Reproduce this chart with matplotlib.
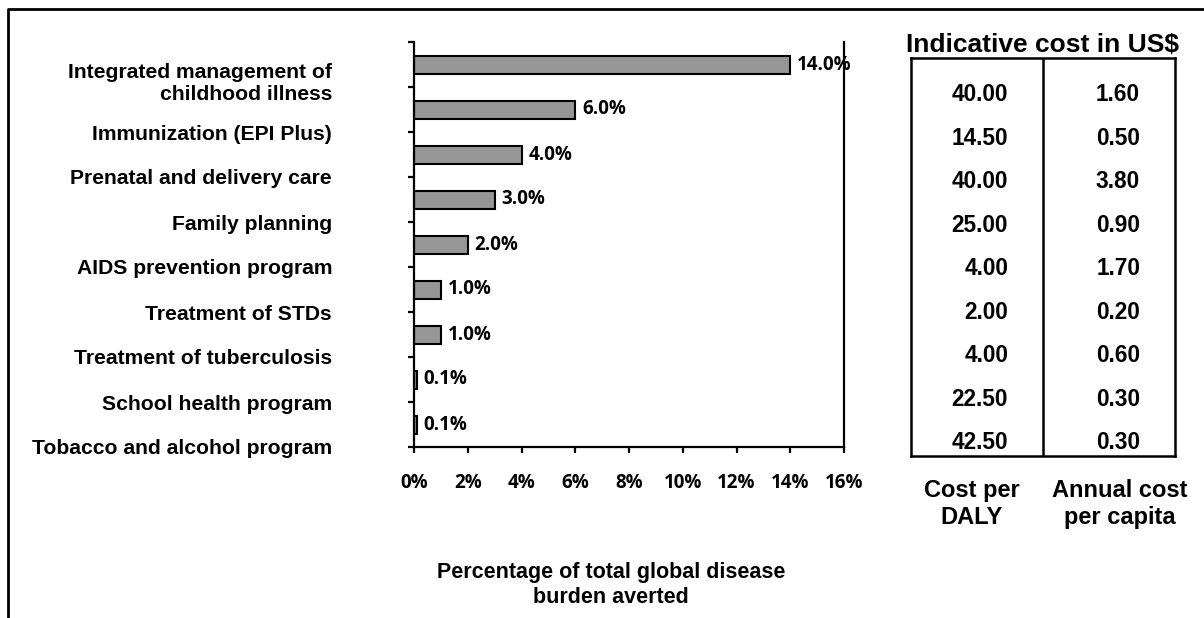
import matplotlib
matplotlib.use("Agg")
import matplotlib.pyplot as plt
from matplotlib.lines import Line2D
from matplotlib.transforms import ScaledTranslation

# Interventions, their share of the global disease burden averted, and costs
programs = [
    "Integrated management of\nchildhood illness",
    "Immunization (EPI Plus)",
    "Prenatal and delivery care",
    "Family planning",
    "AIDS prevention program",
    "Treatment of STDs",
    "Treatment of tuberculosis",
    "School health program",
    "Tobacco and alcohol program",
]
burden_averted = [14.0, 6.0, 4.0, 3.0, 2.0, 1.0, 1.0, 0.1, 0.1]
cost_per_daly = ["40.00", "14.50", "40.00", "25.00", "4.00", "2.00", "4.00", "22.50", "42.50"]
annual_cost_per_capita = ["1.60", "0.50", "3.80", "0.90", "1.70", "0.20", "0.60", "0.30", "0.30"]
x_ticks = [0, 2, 4, 6, 8, 10, 12, 14, 16]
table_title = "Indicative cost in US$"
column_headers = ["Cost per\nDALY", "Annual cost\nper capita"]
x_title = "Percentage of total global disease\nburden averted"

SANS = "Liberation Sans"
NUM = "Open Sans"

W, H = 1204, 618
fig = plt.figure(figsize=(W / 100, H / 100), dpi=100)
fig.patch.set_facecolor("white")

# outer frame (left and top edges)
fig.add_artist(Line2D([8 / W, 8 / W, 1.0], [0.0, 1 - 9 / H, 1 - 9 / H],
                      transform=fig.transFigure, color="black", lw=2.0))

# --- bar chart ---
ax = fig.add_axes([414 / W, 1 - 447 / H, 430 / W, 405 / H])
n = len(programs)
ypos = list(range(n))
bars = ax.barh(ypos, burden_averted, height=0.4, color="#969696",
               edgecolor="black", linewidth=1.5)
ax.set_xlim(0, 16)
ax.set_ylim(n - 0.5, -0.5)

for b, v in zip(bars, burden_averted):
    ax.annotate(f"{v:.1f}%", xy=(b.get_width(), b.get_y() + b.get_height() / 2),
                xytext=(5, 0), textcoords="offset points", ha="left", va="center",
                fontsize=13.5, fontweight="bold", family=NUM)

ax.spines["top"].set_visible(False)
for s in ("left", "bottom", "right"):
    ax.spines[s].set_linewidth(1.6)

ax.set_xticks(x_ticks)
ax.set_xticklabels([f"{t}%" for t in x_ticks], fontsize=13.5,
                   fontweight="bold", family=NUM)
ax.tick_params(axis="x", direction="out", length=4, width=1.6, pad=15)

# category ticks sit on the boundaries between bars
bounds = [i - 0.5 for i in range(n + 1)]
ax.set_yticks(bounds)
ax.set_yticklabels([""] + programs, fontsize=15.2, fontweight="bold", family=SANS)
ax.tick_params(axis="y", direction="out", length=4, width=1.6, pad=55)

# lift the two-line label a little
first = ax.get_yticklabels()[1]
first.set_transform(first.get_transform() + ScaledTranslation(0, 7 / 100, fig.dpi_scale_trans))

ax.text(197 / 430, -0.341, x_title, transform=ax.transAxes, ha="center",
        va="center", fontsize=15.5, fontweight="bold", family=SANS,
        linespacing=1.25)

# --- cost table ---
tx = fig.add_axes([911 / W, 1 - 456 / H, 264 / W, 398 / H])
tx.set_xlim(0, 2)
tx.set_ylim(8.3, -0.85)
tx.set_xticks([])
tx.set_yticks([])
for s in tx.spines.values():
    s.set_linewidth(1.8)
tx.axvline(1, color="black", lw=1.8)

for i, (c1, c2) in enumerate(zip(cost_per_daly, annual_cost_per_capita)):
    for col, val in enumerate((c1, c2)):
        tx.text(col + 0.735, i, val, ha="right", va="center", fontsize=16.3,
                fontweight="bold", family=SANS)

tx.set_title(table_title, fontsize=19, fontweight="bold", family=SANS, pad=4)

for x, lbl in zip((0.462, 1.583), column_headers):
    tx.text(x, 9.4, lbl, ha="center", va="center", fontsize=17,
            fontweight="bold", family=SANS, linespacing=1.2, clip_on=False)

fig.savefig("out.png", dpi=100, facecolor="white")
